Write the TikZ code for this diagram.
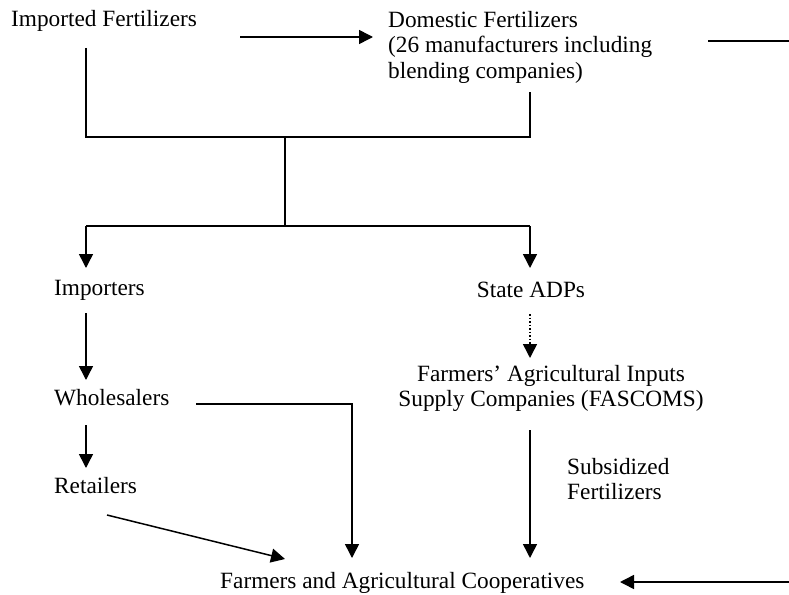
\documentclass[tikz,border=0pt]{standalone}
\usepackage{fontspec}
\setmainfont{Liberation Serif}
\usetikzlibrary{arrows.meta}
\begin{document}
\begin{tikzpicture}[x=1pt,y=-1pt,
  lbl/.style={inner sep=0pt, font=\fontsize{23.3}{25.5}\selectfont},
  conn/.style={line width=1.5pt},
  arr/.style={conn,-{Triangle[length=14pt,width=14pt]}},
  dotarr/.style={arr,dotted}]
\useasboundingbox[fill=white] (0,0) rectangle (789,594);
% nodes
\node[lbl,anchor=base west] (imp) at (11,27) {Imported Fertilizers};
\node[lbl,anchor=north west,align=left] (dom) at (388,11) {Domestic Fertilizers\\(26 manufacturers including\\blending companies)};
\node[lbl,anchor=base west] (imps) at (54,295) {Importers};
\node[lbl,anchor=base] (sadp) at (531,297) {State ADPs};
\node[lbl,anchor=base west] (whs) at (54,405) {Wholesalers};
\node[lbl,anchor=base west] (ret) at (54,493) {Retailers};
\node[lbl,anchor=north,align=center] (fas) at (551,365) {Farmers' Agricultural Inputs\\Supply Companies (FASCOMS)};
\node[lbl,anchor=north west,align=left] (sub) at (567,458) {Subsidized\\Fertilizers};
\node[lbl,anchor=base west] (farm) at (220,588) {Farmers and Agricultural Cooperatives};
% junction coordinates
\coordinate (a1) at (86,48);
\coordinate (j1) at (86,137);
\coordinate (j2) at (530,137);
\coordinate (a2) at (530,92);
\coordinate (m1) at (285,137);
\coordinate (m2) at (285,226);
\coordinate (b1) at (86,226);
\coordinate (b2) at (530,226);
\coordinate (t1) at (86,268);
\coordinate (t2) at (530,268);
\coordinate (d1) at (240,37);
\coordinate (d2) at (373,37);
\coordinate (r1) at (708,41);
\coordinate (r2) at (789,41);
\coordinate (e1) at (789,582);
\coordinate (e2) at (620,582);
\coordinate (i1) at (86,313);
\coordinate (i2) at (86,380);
\coordinate (w1) at (86,425);
\coordinate (w2) at (86,468);
\coordinate (h1) at (196,404);
\coordinate (h2) at (352,404);
\coordinate (h3) at (352,558);
\coordinate (q1) at (107,515);
\coordinate (q2) at (285,559);
\coordinate (s1) at (530,314);
\coordinate (s2) at (530,358);
\coordinate (f1) at (530,430);
\coordinate (f2) at (530,558);
% connectors
\draw[arr] (d1) -- (d2);
\draw[conn] (r1) -- (r2);
\draw[conn] (a1) -- (j1) -- (j2) -- (a2);
\draw[conn] (m1) -- (m2);
\draw[conn] (b1) -- (b2);
\draw[arr] (b1) -- (t1);
\draw[arr] (b2) -- (t2);
\draw[arr] (i1) -- (i2);
\draw[arr] (w1) -- (w2);
\draw[arr] (h1) -- (h2) -- (h3);
\draw[arr] (q1) -- (q2);
\draw[dotarr] (s1) -- (s2);
\draw[arr] (f1) -- (f2);
\draw[arr] (e1) -- (e2);
\end{tikzpicture}
\end{document}
